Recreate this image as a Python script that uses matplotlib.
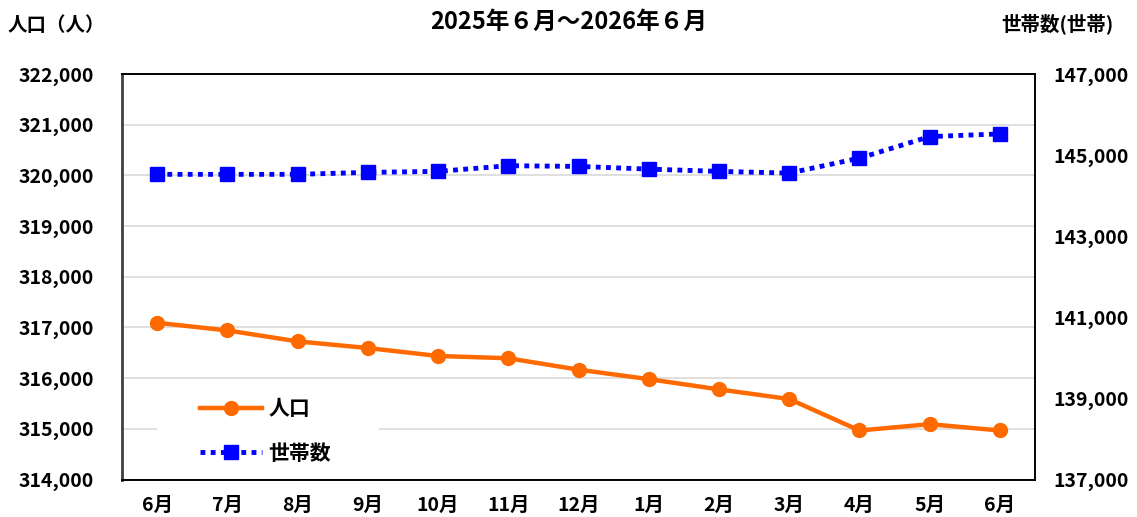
import matplotlib
matplotlib.use("Agg")
import numpy as np
from matplotlib import pyplot as plt
from matplotlib.patches import Rectangle
from matplotlib.ticker import FuncFormatter

plt.rcParams['font.family'] = ['Noto Sans CJK JP', 'DejaVu Sans']
plt.rcParams['font.weight'] = 'bold'

# =========== DONNEES ===========
months = ["6月", "7月", "8月", "9月", "10月", "11月", "12月",
          "1月", "2月", "3月", "4月", "5月", "6月"]
population = [317092, 316941, 316725, 316594, 316437, 316392, 316167,
              315980, 315778, 315588, 314967, 315092, 314967]
households = [144525, 144525, 144525, 144574, 144598, 144738, 144721,
              144654, 144598, 144556, 144924, 145456, 145522]

pop_ticks = list(range(314000, 322001, 1000))
hh_ticks = list(range(137000, 147001, 2000))

title = "2025年６月～2026年６月"
left_label = "人口（人）"
right_label = "世帯数(世帯)"

# ===============================

fig = plt.figure(figsize=(11.37, 5.17), dpi=100)
ax = fig.add_axes([0.1073, 0.0725, 0.8030, 0.7844])
ax2 = ax.twinx()

x = np.arange(len(months))

l1, = ax.plot(x, population, color="#ff6a00", lw=3.2, marker="o", ms=10,
              label="人口", zorder=3)
l2, = ax2.plot(x, households, color="#0000ff", lw=3.5, ls=(0, (1, 1.1)),
               marker="s", ms=10, label="世帯数", zorder=3)

ax.set_xlim(-0.5, len(months) - 0.5)
ax.set_ylim(pop_ticks[0], pop_ticks[-1])
ax.set_yticks(pop_ticks)
ax2.set_ylim(hh_ticks[0], hh_ticks[-1])
ax2.set_yticks(hh_ticks)
ax.set_xticks(x)
ax.set_xticklabels(months)

fmt = FuncFormatter(lambda v, p: f"{int(v):,}")
ax.yaxis.set_major_formatter(fmt)
ax2.yaxis.set_major_formatter(fmt)

ax.grid(axis="y", color="#d9d9d9", lw=1.2)
ax.set_axisbelow(True)

ax.tick_params(axis="y", length=0, labelsize=14, pad=20)
ax.tick_params(axis="x", length=0, labelsize=14, pad=12)
ax2.tick_params(axis="y", length=0, labelsize=14, pad=13)

for sp in ["top", "right", "bottom"]:
    ax.spines[sp].set_color("black")
    ax.spines[sp].set_linewidth(1.2)
    ax2.spines[sp].set_color("black")
    ax2.spines[sp].set_linewidth(1.2)
ax.spines["left"].set_color("#404040")
ax.spines["left"].set_linewidth(2)
ax2.spines["left"].set_visible(False)

# fond blanc du bloc legende (cache la grille)
ax2.add_patch(Rectangle((0.038, 0.023), 0.243, 0.2, transform=ax2.transAxes,
                        facecolor="white", edgecolor="none", zorder=1))

leg = ax2.legend(handles=[l1, l2], loc="upper left",
                 bbox_to_anchor=(0.0854, 0.2), frameon=False,
                 fontsize=15, handlelength=3.0, labelspacing=1.12,
                 borderpad=0, handletextpad=0.3, borderaxespad=0)

fig.text(0.5, 0.957, title, ha="center", va="center", fontsize=17,
         fontweight="bold")
fig.text(0.007, 0.95, left_label, ha="left", va="center", fontsize=14,
         fontweight="bold")
fig.text(0.979, 0.955, right_label, ha="right", va="center", fontsize=14,
         fontweight="bold")

fig.savefig("out.png", dpi=100)
